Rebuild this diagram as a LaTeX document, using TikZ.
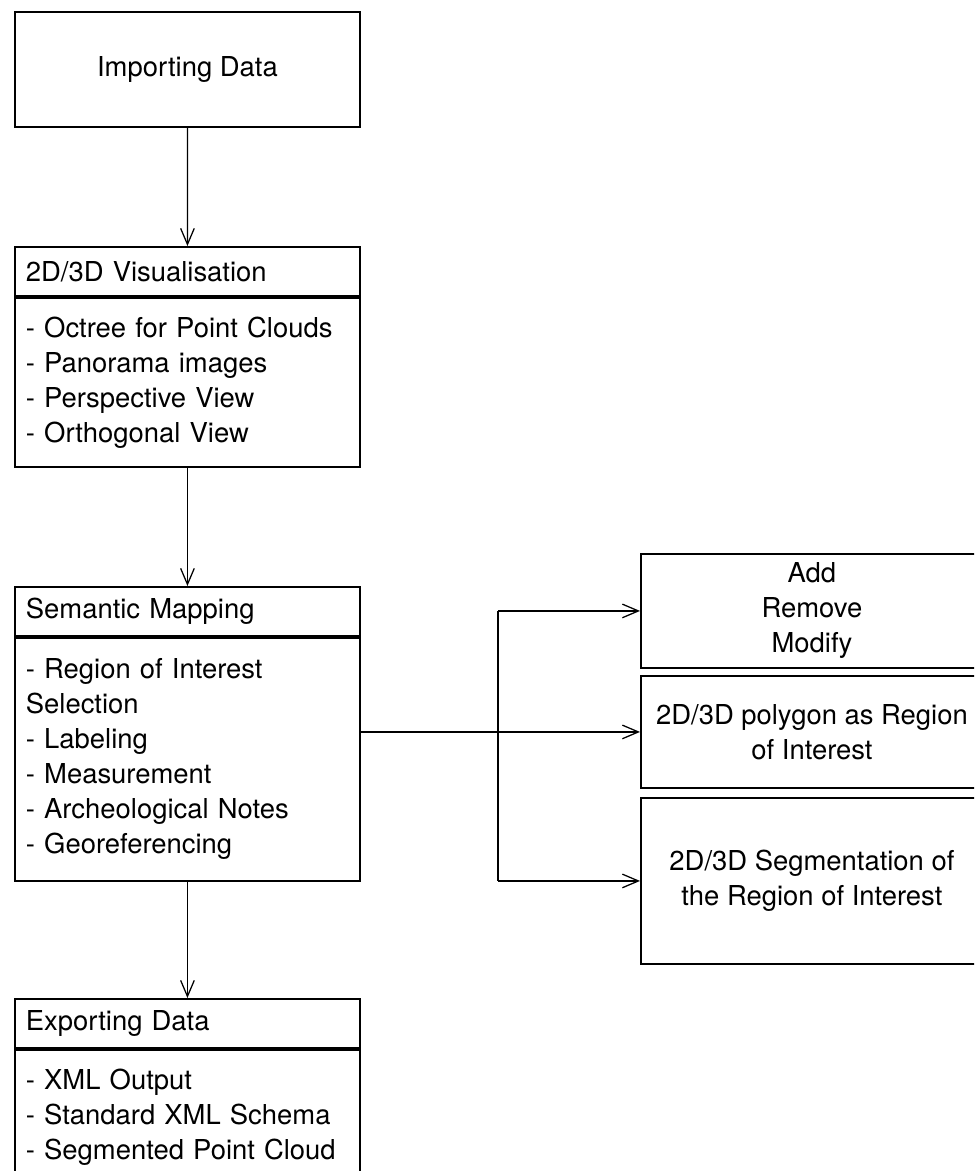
\documentclass[tikz,border=0pt]{standalone}
\usepackage{fontspec}
\setmainfont{TeX Gyre Heros}
\usepackage{tikz}
\usetikzlibrary{arrows.meta, positioning}
\newcommand{\diagfont}{\fontsize{19.5}{24.9}\selectfont}

\begin{document}
\begin{tikzpicture}[
    x=0.025cm, y=-0.025cm,
    every node/.style={font=\diagfont},
    arrow/.style={-{Straight Barb[length=4mm, width=3.4mm]}, line width=0.9pt},
    link/.style={line width=0.9pt},
    stepbox/.style={rectangle, draw, line width=1.3pt, minimum width=8.625cm, minimum height=2.875cm, anchor=north west},
    headbox/.style={rectangle, draw, line width=1.3pt, text width=8.075cm, inner xsep=0.275cm, inner ysep=0pt, minimum height=1.225cm, align=left, anchor=north west},
    listbox/.style={rectangle, draw, line width=1.3pt, text width=8.075cm, inner xsep=0.275cm, inner ysep=0pt, align=left, anchor=north west},
    toolbox/.style={rectangle, draw, line width=1.3pt, minimum width=8.55cm, align=center, anchor=north west}
]

% page frame
\path[use as bounding box, clip] (0,0) rectangle (974,1171);

% Main workflow column
\node[stepbox] (import) at (14,11) {Importing Data};

\node[headbox] (vishead) at (14,246) {2D/3D Visualisation};
\node[listbox, minimum height=4.225cm] (visbody) at (vishead.south west) {- Octree for Point Clouds\\- Panorama images\\- Perspective View\\- Orthogonal View};

\node[headbox] (semhead) at (14,586) {Semantic Mapping};
\node[listbox, minimum height=6.075cm] (sembody) at (semhead.south west) {- Region of Interest\\Selection\\- Labeling\\- Measurement\\- Archeological Notes\\- Georeferencing};

\node[headbox] (exphead) at (14,998) {Exporting Data};
\node[listbox, minimum height=3.35cm] (expbody) at (exphead.south west) {- XML Output\\- Standard XML Schema\\- Segmented Point Cloud};

% Mapping tools - right column
\node[toolbox, minimum height=2.85cm] (edit) at (640,553) {Add\\Remove\\Modify};
\node[toolbox, minimum height=2.8cm] (roi) at (640,675) {2D/3D polygon as Region\\of Interest};
\node[toolbox, minimum height=4.15cm] (seg) at (640,797) {2D/3D Segmentation of\\the Region of Interest};

% Vertical flow
\draw[arrow] (import) -- (vishead);
\draw[arrow] (visbody) -- (semhead);
\draw[arrow] (sembody) -- (exphead);

% Branch to the tools
\coordinate (fork) at (498,731);
\draw[arrow] (sembody.east |- roi.west) -- (roi.west);
\draw[link] (fork |- edit.west) -- (fork |- seg.west);
\draw[arrow] (fork |- edit.west) -- (edit.west);
\draw[arrow] (fork |- seg.west) -- (seg.west);

\end{tikzpicture}
\end{document}
